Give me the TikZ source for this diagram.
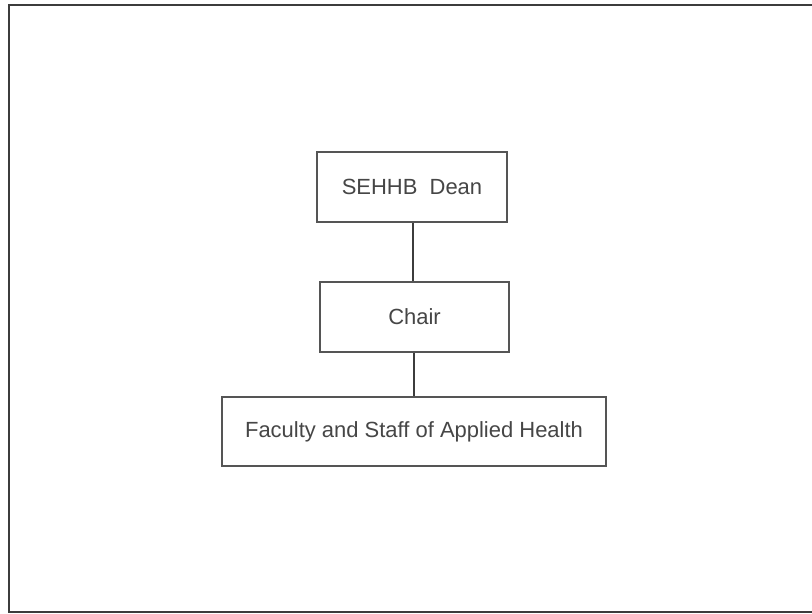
\documentclass[tikz,border=0pt]{standalone}
\usepackage{fontspec}
\setmainfont{Liberation Sans}
\usetikzlibrary{calc}
\definecolor{box_line}{RGB}{85, 85, 85}
\definecolor{box_text}{RGB}{70, 70, 70}
\definecolor{link_line}{RGB}{60, 60, 60}
\definecolor{frame_line}{RGB}{60, 60, 60}
\tikzstyle{ob}=[rectangle,draw=box_line,line width=1.1pt,fill=white,
  text=box_text,font=\fontsize{12.5}{15}\selectfont,inner sep=0pt]
\tikzstyle{link}=[draw=link_line,line width=1.6pt]

\begin{document}
\begin{tikzpicture}
            \useasboundingbox (0, 0) rectangle (16.24, 12.28);
            \draw [frame_line, line width=1.2pt] (17, 12.18) -- (0.18, 12.18) -- (0.18, 0.04) -- (17, 0.04);
            \node [style=ob, minimum width=3.8cm, minimum height=1.4cm] (dean) at (8.24, 8.54) {SEHHB\ \ Dean};
            \node [style=ob, minimum width=3.78cm, minimum height=1.4cm] (chair) at (8.29, 5.94) {Chair};
            \node [style=ob, minimum width=7.68cm, minimum height=1.38cm] (staff) at (8.28, 3.65) {Faculty and Staff of Applied Health};
            \draw [style=link] (dean.south -| 8.26, 0) to (chair.north -| 8.26, 0);
            \draw [style=link] (chair.south -| 8.28, 0) to (staff.north -| 8.28, 0);
    \end{tikzpicture}
\end{document}
